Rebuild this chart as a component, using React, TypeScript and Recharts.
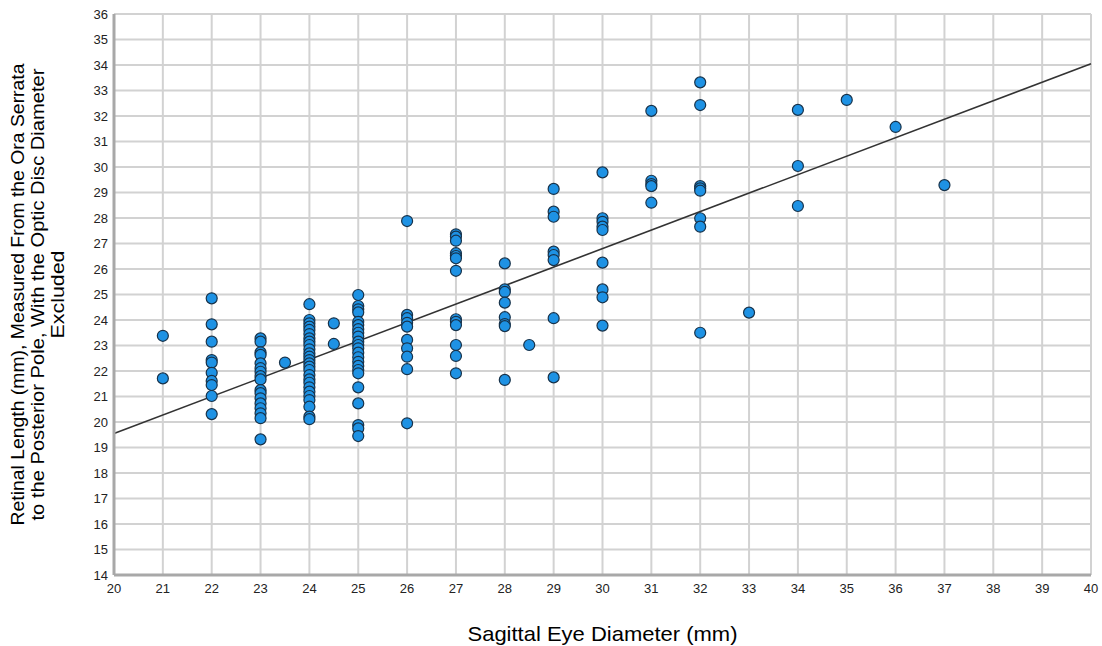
import {
  CartesianGrid,
  Label,
  ReferenceLine,
  Scatter,
  ScatterChart,
  XAxis,
  YAxis,
} from 'recharts';

// Retinal length (mm) per sagittal eye diameter (mm).
const at21 = [23.38, 21.71];
const at22 = [24.85, 23.83, 23.15, 22.43, 22.33, 21.93, 21.61, 21.45, 21.02, 20.31];
const at23 = [
  23.28, 23.15, 22.73, 22.63, 22.3, 22.11, 21.97, 21.8, 21.67, 21.25, 21.13, 20.93, 20.73,
  20.54, 20.34, 20.15, 19.32,
];
const at23_5 = [22.33];
const at24 = [
  24.62, 24.0, 23.87, 23.74, 23.61, 23.45, 23.28, 23.15, 23.02, 22.85, 22.69, 22.56, 22.43,
  22.3, 22.17, 22.04, 21.84, 21.67, 21.54, 21.36, 21.19, 21.02, 20.86, 20.6, 20.21, 20.11,
];
const at24_5 = [23.87, 23.06];
const at25 = [
  24.98, 24.55, 24.42, 24.3, 23.93, 23.8, 23.64, 23.5, 23.35, 23.15, 23.02, 22.89, 22.72,
  22.54, 22.36, 22.2, 22.04, 21.91, 21.36, 20.73, 19.88, 19.75, 19.45,
];
const at26 = [27.88, 24.2, 24.07, 23.89, 23.74, 23.22, 22.89, 22.56, 22.07, 19.95];
const at27 = [27.36, 27.27, 27.11, 26.62, 26.51, 26.42, 25.93, 24.03, 23.93, 23.8, 23.02, 22.59, 21.91];
const at28 = [26.22, 25.2, 25.1, 24.68, 24.11, 23.84, 23.76, 21.65];
const at28_5 = [23.02];
const at29 = [29.14, 28.25, 28.05, 26.68, 26.55, 26.35, 24.07, 21.75];
const at30 = [29.79, 27.99, 27.85, 27.66, 27.53, 26.25, 25.2, 24.89, 23.78];
const at31 = [32.2, 29.46, 29.33, 29.25, 28.6];
const at32 = [33.32, 32.43, 29.25, 29.16, 29.07, 27.99, 27.66, 23.5];
const at33 = [24.29];
const at34 = [32.24, 30.04, 28.47];
const at35 = [32.63];
const at36 = [31.57];
const at37 = [29.29];

const columns: [number, number[]][] = [
  [21, at21], [22, at22], [23, at23], [23.5, at23_5], [24, at24], [24.5, at24_5],
  [25, at25], [26, at26], [27, at27], [28, at28], [28.5, at28_5], [29, at29],
  [30, at30], [31, at31], [32, at32], [33, at33], [34, at34], [35, at35],
  [36, at36], [37, at37],
];

const xTicks = [20, 21, 22, 23, 24, 25, 26, 27, 28, 29, 30, 31, 32, 33, 34, 35, 36, 37, 38, 39, 40];
const yTicks = [14, 15, 16, 17, 18, 19, 20, 21, 22, 23, 24, 25, 26, 27, 28, 29, 30, 31, 32, 33, 34, 35, 36];

// fit line end points
const fitFrom = { x: 20, y: 19.55 };
const fitTo = { x: 40, y: 34.05 };

const yTitle = [
  'Retinal Length (mm), Measured From the Ora Serrata',
  'to the Posterior Pole, With the Optic Disc Diameter',
  'Excluded',
];
const xTitle = 'Sagittal Eye Diameter (mm)';

const points = columns.flatMap(([x, ys]) => ys.map((y) => ({ x, y })));

const FONT = '"Liberation Sans", Arial, sans-serif';

function Dot(props: any) {
  const { cx, cy } = props;
  if (cx == null || cy == null) return null;
  return <circle cx={cx} cy={cy} r={5.5} fill="#1e92e4" stroke="#17324a" strokeWidth={1.2} />;
}

// SPSS draws its titles in a narrow face, so stretch a smaller font along the line
function YTitle(props: any) {
  const vb = props.viewBox || {};
  const cy = vb.y + vb.height / 2;
  const xs = [24, 44, 64];
  const lens = [462, 452, 88];
  return (
    <g>
      {yTitle.map((line, i) => (
        <text
          key={i}
          x={xs[i]}
          y={cy}
          transform={`rotate(-90 ${xs[i]} ${cy})`}
          textAnchor="middle"
          fontSize={18}
          fontFamily={FONT}
          textLength={lens[i]}
          lengthAdjust="spacingAndGlyphs"
          fill="#000"
        >
          {line}
        </text>
      ))}
    </g>
  );
}

function XTitle(props: any) {
  const vb = props.viewBox || {};
  const cx = vb.x + vb.width / 2;
  return (
    <text
      x={cx}
      y={641}
      textAnchor="middle"
      fontSize={21}
      fontFamily={FONT}
      textLength={270}
      lengthAdjust="spacingAndGlyphs"
      fill="#000"
    >
      {xTitle}
    </text>
  );
}

export default function App() {
  return (
    <div style={{ position: 'absolute', left: 0, top: 0, width: 1102, height: 646, background: '#fff' }}>
      <ScatterChart width={1102} height={646} margin={{ top: 14, right: 11, bottom: 0, left: 0 }}>
        <CartesianGrid stroke="#d2d2d2" strokeWidth={2} />
        <XAxis
          type="number"
          dataKey="x"
          domain={[20, 40]}
          ticks={xTicks}
          interval={0}
          height={71}
          tickSize={0}
          tickMargin={9}
          axisLine={{ stroke: '#a8a8a8', strokeWidth: 3 }}
          tick={{ fill: '#222', fontSize: 13, fontFamily: FONT }}
        >
          <Label content={<XTitle />} />
        </XAxis>
        <YAxis
          type="number"
          dataKey="y"
          domain={[14, 36]}
          ticks={yTicks}
          interval={0}
          width={114}
          tickSize={0}
          tickMargin={6}
          axisLine={{ stroke: '#a8a8a8', strokeWidth: 3 }}
          tick={{ fill: '#222', fontSize: 13, fontFamily: FONT }}
        >
          <Label content={<YTitle />} />
        </YAxis>
        <Scatter data={points} shape={<Dot />} isAnimationActive={false} />
        <ReferenceLine segment={[fitFrom, fitTo]} stroke="#333" strokeWidth={1.6} />
      </ScatterChart>
    </div>
  );
}
